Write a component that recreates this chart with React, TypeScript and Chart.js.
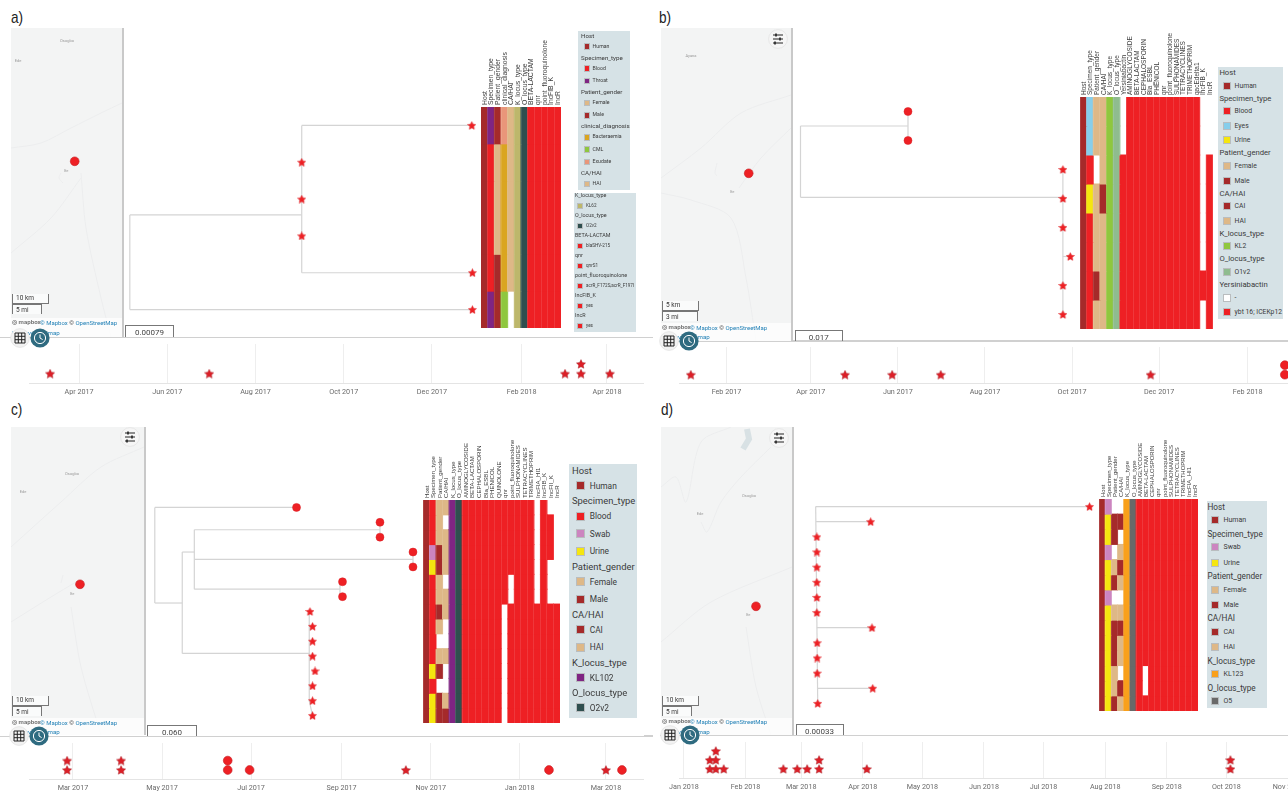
import React, { useEffect, useRef } from "react";
import { Chart, registerables } from "chart.js";

Chart.register(...registerables);

// ---------- palette for heat-map codes ----------
const palette: Record<string, string> = {
  H: "#a52a2a", R: "#ee2024", P: "#7f2583", F: "#deb887", M: "#a52a2a", G: "#daa520",
  L: "#8fc73e", S: "#e9967a", K: "#bdb76b", D: "#2f4f4f", E: "#87ceeb", U: "#f5e60f",
  W: "#cc85c0", N: "#8fc73e", V: "#8fbc8f", O: "#f9a01b", Y: "#696969",
};

// ---------- panel a ----------
const aColumns = ["Host", "Specimen_type", "Patient_gender", "clinical_diagnosis", "CA/HAI", "K_locus_type", "O_locus_type", "BETA-LACTAM", "qnr", "point_fluoroquinolone", "IncFIB_K", "IncR"];
const aRows = ["HPMSFKDRRRRR", "HRFGFKDRRRRR", "HRFGFKDRRRRR", "HRFGFKDRRRRR", "HRMGFKDRRRRR", "HPML.KDRRRRR"];
const aTipX = [0.00557, 0.0028, 0.0028, 0.0028, 0.00558, 0.00558];
const aTipShape = "******";
const aEdges = [[0, 2.43, 0.0028, 2.43], [0, 2.43, 0, 5], [0, 5, 0.00558, 5], [0.0028, 0, 0.0028, 4], [0.0028, 0, 0.00557, 0], [0.0028, 4, 0.00558, 4]];
const aTickLabels = ["Apr 2017", "Jun 2017", "Aug 2017", "Oct 2017", "Dec 2017", "Feb 2018", "Apr 2018"];
const aStarDates: [string, number][] = [["2017-03-12", 0], ["2017-06-30", 0], ["2018-03-03", 0], ["2018-03-14", 0], ["2018-03-14", 1], ["2018-04-03", 0]];
const aCircleDates: [string, number][] = [];
const aLegend1 = [["Host"], ["Human", "#a52a2a"], ["Specimen_type"], ["Blood", "#ee2024"], ["Throat", "#7f2583"], ["Patient_gender"], ["Female", "#deb887"], ["Male", "#a52a2a"], ["clinical_diagnosis"], ["Bacteraemia", "#daa520"], ["CML", "#8fc73e"], ["Exudate", "#e9967a"], ["CA/HAI"], ["HAI", "#deb887"]];
const aLegend2 = [["K_locus_type"], ["KL62", "#bdb76b"], ["O_locus_type"], ["O2v2", "#2f4f4f"], ["BETA-LACTAM"], ["blaSHV-215", "#ee2024"], ["qnr"], ["qnrS1", "#ee2024"], ["point_fluoroquinolone"], ["acrR_F172S,acrR_F197I", "#ee2024"], ["IncFIB_K"], ["yes", "#ee2024"], ["IncR"], ["yes", "#ee2024"]];

// ---------- panel b ----------
const bColumns = ["Host", "Specimen_type", "Patient_gender", "CA/HAI", "K_locus_type", "O_locus_type", "Yersiniabactin", "AMINOGLYCOSIDE", "BETA-LACTAM", "CEPHALOSPORIN", "Bla_ESBL", "PHENICOL", "qnr", "point_fluoroquinolone", "SULPHONAMIDES", "TETRACYCLINES", "TRIMETHOPRIM", "qacEdelta1", "IncFIB_K", "IncR"];
const bRows = ["HEFFNV.RRRRRRRRRRR..", "HEFFNV.RRRRRRRRRRR..", "HR.FNVRRRRRRRRRRRR.R", "HUFMNVRRRRRRRRRRRR.R", "HRFFNVRRRRRRRRRRRR.R", "HRFFNVRRRRRRRRRRRR.R", "HRMFNVRRRRRRRRRRRRRR", "HRFFNVRRRRRRRRRRRR.R"];
const bTipX = [0.03807, 0.03807, 0.09293, 0.09293, 0.09293, 0.09555, 0.09293, 0.09293];
const bTipShape = "oo******";
const bEdges = [[0, 0.5, 0, 2.96], [0, 0.5, 0.03807, 0.5], [0.03807, 0, 0.03807, 1], [0, 2.96, 0.09293, 2.96], [0.09293, 2, 0.09293, 7], [0.09293, 5, 0.09555, 5]];
const bTickLabels = ["Feb 2017", "Apr 2017", "Jun 2017", "Aug 2017", "Oct 2017", "Dec 2017", "Feb 2018"];
const bStarDates: [string, number][] = [["2017-01-07", 0], ["2017-04-25", 0], ["2017-05-28", 0], ["2017-07-01", 0], ["2017-11-25", 0]];
const bCircleDates: [string, number][] = [["2018-02-27", 0], ["2018-02-27", 1]];
const bLegend = [["Host"], ["Human", "#a52a2a"], ["Specimen_type"], ["Blood", "#ee2024"], ["Eyes", "#87ceeb"], ["Urine", "#f5e60f"], ["Patient_gender"], ["Female", "#deb887"], ["Male", "#a52a2a"], ["CA/HAI"], ["CAI", "#a52a2a"], ["HAI", "#deb887"], ["K_locus_type"], ["KL2", "#8fc73e"], ["O_locus_type"], ["O1v2", "#8fbc8f"], ["Yersiniabactin"], ["-", "#ffffff"], ["ybt 16; ICEKp12", "#ee2024"]];

// ---------- panel c ----------
const cColumns = ["Host", "Specimen_type", "Patient_gender", "CA/HAI", "K_locus_type", "O_locus_type", "AMINOGLYCOSIDE", "BETA-LACTAM", "CEPHALOSPORIN", "Bla_ESBL", "PHENICOL", "QUINOLONE", "qnr", "point_fluoroquinolone", "SULPHONAMIDES", "TETRACYCLINES", "TRIMETHOPRIM", "IncFIA_HI1", "IncFIB_K", "IncFII_K", "IncR"];
const cRows = [
  "HRFFPDRRRRRRRRRRR.R..", "HRF.PDRRRRRRRRRRR.RR.", "HRFFPDRRRRRRRRRRR.RR.", "HWMFPDRRRRRRRRRRR.RR.", "HUMFPDRRRRRRRRRRR.R..",
  "HRF.PDRRRRRRR.RRR.R..", "HRFFPDRRRRRRR.RRR.R..", "HRMFPDRRRRRR.RRRRRRRR", "HRF.PDRRRRRR.RRRRRRRR", "HR..PDRRRRRR.RRRRRRRR",
  "HRFFPDRRRRRR.RRRRRRRR", "HUM.PDRRRRRR.RRRRRRRR", "HR..PDRRRRRR.RRRRRRRR", "HUMFPDRRRRRR.RRRRRRRR", "HUMMPDRRRRRR.RRRRRRRR",
];
const cTipX = [0.1739, 0.2763, 0.2763, 0.3168, 0.3168, 0.2303, 0.2303, 0.1904, 0.1935, 0.1935, 0.1935, 0.1966, 0.1935, 0.1935, 0.1935];
const cTipShape = "ooooooo********";
const cEdges = [[0, 0, 0, 6.43], [0, 0, 0.1739, 0], [0, 6.43, 0.0337, 6.43], [0.0337, 3, 0.0337, 9.82], [0.0337, 3, 0.0485, 3], [0.0485, 1.5, 0.0485, 5.5], [0.0485, 1.5, 0.2763, 1.5], [0.2763, 1, 0.2763, 2], [0.0485, 3.5, 0.3168, 3.5], [0.3168, 3, 0.3168, 4], [0.0485, 5.5, 0.2272, 5.5], [0.2272, 5, 0.2272, 6], [0.0337, 9.82, 0.1895, 9.82], [0.1895, 7, 0.1895, 13], [0.1895, 13, 0.1935, 14]];
const cTickLabels = ["Mar 2017", "May 2017", "Jul 2017", "Sep 2017", "Nov 2017", "Jan 2018", "Mar 2018"];
const cStarDates: [string, number][] = [["2017-02-25", 0], ["2017-02-25", 1], ["2017-04-03", 0], ["2017-04-03", 1], ["2017-10-15", 0], ["2018-03-01", 0]];
const cCircleDates: [string, number][] = [["2017-06-15", 0], ["2017-06-15", 1], ["2017-06-30", 0], ["2018-01-21", 0], ["2018-03-12", 0]];
const cLegend = [["Host"], ["Human", "#a52a2a"], ["Specimen_type"], ["Blood", "#ee2024"], ["Swab", "#cc85c0"], ["Urine", "#f5e60f"], ["Patient_gender"], ["Female", "#deb887"], ["Male", "#a52a2a"], ["CA/HAI"], ["CAI", "#a52a2a"], ["HAI", "#deb887"], ["K_locus_type"], ["KL102", "#7f2583"], ["O_locus_type"], ["O2v2", "#2f4f4f"]];

// ---------- panel d ----------
const dColumns = ["Host", "Specimen_type", "Patient_gender", "CA/HAI", "K_locus_type", "O_locus_type", "AMINOGLYCOSIDE", "BETA-LACTAM", "CEPHALOSPORIN", "qnr", "point_fluoroquinolone", "SULPHONAMIDES", "TETRACYCLINES", "TRIMETHOPRIM", "IncFIA_HI1", "IncR"];
const dRows = [
  "HW..OYRRRRRRRRRR", "HUMMOYRRRRRRRRRR", "HUM.OYRRRRRRRRRR", "HW.FOYRRRRRRRRRR", "HUFMOYRRRRRRRRRR", "HUMFOYRRRRRRRRRR", "HW..OYRRRRRRRRRR",
  "HUFFOYRRRRRRRRRR", "HUMMOYRRRRRRRRRR", "HUMFOYRRRRRRRRRR", "HUMFOYRRRRRRRRRR", "HUF.OYR.RRRRRRRR", "HUFMOYR.RRRRRRRR", "HUMFOYRRRRRRRRRR",
];
const dTipX = [0.001883, 0.000378, 0.000008, 0.000008, 0.000008, 0.000008, 0.000008, 0.000008, 0.000387, 0.00001, 0.00001, 0.00001, 0.000392, 0.000014];
const dTipShape = "**************";
const dEdges = [[0, 0, 0.000014, 13], [0, 0, 0.001883, 0], [0.000003, 1, 0.000378, 1], [0.000008, 8, 0.000387, 8], [0.000012, 12, 0.000392, 12]];
const dTickLabels = ["Jan 2018", "Feb 2018", "Mar 2018", "Apr 2018", "May 2018", "Jun 2018", "Jul 2018", "Aug 2018", "Sep 2018", "Oct 2018", "Nov 2018"];
const dStarDates: [string, number][] = [["2018-01-14", 0], ["2018-01-17", 0], ["2018-01-21", 0], ["2018-01-14", 1], ["2018-01-17", 1], ["2018-01-17", 2], ["2018-02-20", 0], ["2018-02-27", 0], ["2018-03-04", 0], ["2018-03-10", 0], ["2018-03-10", 1], ["2018-04-03", 0], ["2018-10-03", 0], ["2018-10-03", 1]];
const dCircleDates: [string, number][] = [];
const dLegend = [["Host"], ["Human", "#a52a2a"], ["Specimen_type"], ["Swab", "#cc85c0"], ["Urine", "#f5e60f"], ["Patient_gender"], ["Female", "#deb887"], ["Male", "#a52a2a"], ["CA/HAI"], ["CAI", "#a52a2a"], ["HAI", "#deb887"], ["K_locus_type"], ["KL123", "#f9a01b"], ["O_locus_type"], ["O5", "#696969"]];

// ---------- map features (map units) ----------
const aRoads = [[[0, 120], [30, 115], [60, 100], [90, 85], [111, 75]], [[70, 145], [75, 200], [90, 270], [100, 309]], [[0, 225], [40, 190], [70, 150]], [[50, 145], [48, 150], [52, 155]]];
const bRoads = [[[0, 150], [40, 120], [80, 85], [130, 67]], [[0, 165], [30, 172], [70, 190], [85, 250], [95, 313]], [[78, 160], [100, 130], [130, 100]], [[56, 135], [54, 145], [56, 148]]];
const cRoads = [[[0, 120], [50, 75], [90, 40], [133, 20]], [[0, 195], [40, 170], [65, 155]], [[60, 180], [70, 240], [90, 308]], [[52, 148], [50, 156]]];
const dRoads = [[[0, 60], [15, 50], [25, 75], [40, 15], [70, 0]], [[0, 215], [50, 175], [131, 140]], [[85, 200], [95, 260], [110, 308]], [[40, 95], [46, 105], [60, 75], [80, 50], [110, 20]]];
const dDam = [[86, 2], [88, 12], [82, 22]];
const aMapLabels: [string, number, number][] = [["Osogbo", 56, 13], ["Ede", 7, 33], ["Ife", 55, 143]];
const bMapLabels: [string, number, number][] = [["Ife", 71, 164], ["Ayana", 30, 28]];
const cMapLabels: [string, number, number][] = [["Osogbo", 61, 47], ["Ede", 12, 65], ["Ife", 61, 167]];
const dMapLabels: [string, number, number][] = [["Osogbo", 88, 69], ["Ede", 39, 87], ["Ife", 87, 188]];

// ---------- helpers ----------
const toDay = (s: string) => Date.parse(s.length > 10 ? s : s + "T00:00Z") / 86400000;
const labelDay = (l: string) => Date.parse(`${l.slice(0, 3)} 1 ${l.slice(4)} UTC`) / 86400000;

const starCache: Record<string, HTMLCanvasElement> = {};
function starImage(size: number, fill: string, stroke: string) {
  const key = `${size}${fill}${stroke}`;
  if (starCache[key]) return starCache[key];
  const c = document.createElement("canvas");
  c.width = size; c.height = size;
  const g = c.getContext("2d")!;
  const R = size / 2 - 0.2, r = R * 0.5;
  g.beginPath();
  for (let i = 0; i < 10; i++) {
    const a = -Math.PI / 2 + (i * Math.PI) / 5, q = i % 2 ? r : R;
    g.lineTo(size / 2 + q * Math.cos(a), size / 2 + 0.4 + q * Math.sin(a));
  }
  g.closePath();
  g.fillStyle = fill; g.fill();
  g.lineWidth = 0.4; g.strokeStyle = stroke; g.stroke();
  starCache[key] = c;
  return c;
}

const noAxis = { display: false };
const base = {
  responsive: false, animation: false as const,
  layout: { padding: 0, autoPadding: false },
  plugins: { legend: { display: false }, tooltip: { enabled: false } },
  events: [] as any[],
};

function ChartBox({ x, y, w, h, make, style }: any) {
  const ref = useRef<HTMLCanvasElement>(null);
  useEffect(() => {
    const chart = new Chart(ref.current!, make());
    return () => chart.destroy();
  }, []);
  return <canvas ref={ref} width={w} height={h} style={{ position: "absolute", left: x, top: y, width: w, height: h, ...style }} />;
}

function treeConfig(tipX: number[], shape: string, edges: number[][], xMin: number, xMax: number, nRows: number) {
  return () => {
    const tips = tipX.map((x, i) => ({ x, y: i }));
    return {
      type: "scatter",
      data: {
        datasets: [
          { data: tips.filter((_, i) => shape[i] === "*"), pointStyle: starImage(9, "#ee2024", "#d81e24"), pointRadius: 5, clip: false },
          { data: tips.filter((_, i) => shape[i] === "o"), pointStyle: "circle", pointRadius: 4, backgroundColor: "#ee2024", borderColor: "#d81e24", borderWidth: 0.5, clip: false },
          ...edges.map((e) => ({
            data: [{ x: e[0], y: e[1] }, { x: e[2], y: e[3] }], showLine: true, pointRadius: 0,
            borderColor: "#d4d4d4", borderWidth: 1.2, clip: false,
          })),
        ],
      },
      options: {
        ...base,
        scales: {
          x: { type: "linear", min: xMin, max: xMax, ...noAxis },
          y: { type: "linear", min: -0.5, max: nRows - 0.5, reverse: true, ...noAxis },
        },
      },
    } as any;
  };
}

const HEAT_MARGIN = 4;
function heatConfig(columns: string[], rows: string[], labelBand: number, font: number) {
  return () => ({
    type: "bar",
    data: {
      labels: columns,
      datasets: rows.map((row, r) => ({
        data: columns.map((_, c) => (row[c] === "." ? null : [r, r + 1])),
        backgroundColor: columns.map((_, c) => palette[row[c]] || "transparent"),
        borderWidth: 0,
        inflateAmount: 0.5,
        barPercentage: 1, categoryPercentage: 1, grouped: false,
      })),
    },
    options: {
      ...base,
      layout: { padding: { left: HEAT_MARGIN, right: HEAT_MARGIN }, autoPadding: false },
      scales: {
        x: {
          position: "top", offset: true,
          grid: { display: true, z: 1, offset: true, color: "rgba(255,255,255,0.16)", lineWidth: 0.7, drawTicks: false }, border: { display: false },
          ticks: {
            autoSkip: false, minRotation: 90, maxRotation: 90, padding: 2,
            labelOffset: font * 0.6 + 4.5,
            color: "#3c3c3c", font: { family: "'Liberation Sans'", size: font },
          },
          afterFit: (s: any) => { s.height = labelBand; s.paddingLeft = 0; s.paddingRight = 0; },
        },
        y: { type: "linear", min: 0, max: rows.length, reverse: true, ...noAxis },
      },
    },
  } as any);
}

const TIME_MARGIN = 14;
function timelineConfig(stars: [string, number][], circles: [string, number][], tickLabels: string[], minD: string, maxD: string, yMin: number, yMax: number) {
  const tickDays = tickLabels.map(labelDay);
  return () => ({
    type: "scatter",
    data: {
      datasets: [
        { data: stars.map(([d, r]) => ({ x: toDay(d), y: r })), pointStyle: starImage(10, "#dc1f27", "#9c1f25"), pointRadius: 5, clip: false },
        { data: circles.map(([d, r]) => ({ x: toDay(d), y: r })), pointStyle: "circle", pointRadius: 4.4, backgroundColor: "#ee2024", borderColor: "#c51f24", borderWidth: 0.6, clip: false },
      ],
    },
    options: {
      ...base,
      layout: { padding: { left: TIME_MARGIN }, autoPadding: false },
      scales: {
        x: {
          type: "linear", min: toDay(minD), max: toDay(maxD),
          afterBuildTicks: (s: any) => { s.ticks = tickDays.map((value) => ({ value })); },
          afterFit: (s: any) => { s.height = 17; s.paddingLeft = 0; s.paddingRight = 0; },
          grid: { color: "#eeeeee", lineWidth: 1, drawTicks: false },
          border: { color: "#e4e4e4" },
          ticks: {
            autoSkip: false, maxRotation: 0, minRotation: 0, padding: 5, color: "#6a6a6a",
            font: { family: "Roboto", size: 7.2 },
            callback: (v: number) => tickLabels[tickDays.indexOf(v)] ?? "",
          },
        },
        y: { type: "linear", min: yMin, max: yMax, ...noAxis },
      },
    },
  } as any);
}

function mapConfig(w: number, h: number, dot: [number, number], roads: number[][][], dam?: number[][]) {
  return () => ({
    type: "scatter",
    data: {
      datasets: [
        { data: [{ x: dot[0], y: dot[1] }], pointStyle: "circle", pointRadius: 4.4, backgroundColor: "#ee2024", borderColor: "#c51f24", borderWidth: 0.6 },
        ...(dam ? [{ data: dam.map(([x, y]) => ({ x, y })), showLine: true, pointRadius: 0, borderColor: "#d8e1e4", borderWidth: 6 }] : []),
        ...roads.map((rd) => ({
          data: rd.map(([x, y]) => ({ x, y })), showLine: true, pointRadius: 0,
          borderColor: "#ecedee", borderWidth: 1, tension: 0.3,
        })),
      ],
    },
    options: {
      ...base,
      scales: {
        x: { type: "linear", min: 0, max: w, ...noAxis },
        y: { type: "linear", min: 0, max: h, reverse: true, ...noAxis },
      },
    },
  } as any);
}

// ---------- plain page furniture ----------
function Txt({ x, y, children, size, color, family, weight, center, sx }: any) {
  return (
    <div style={{
      position: "absolute", left: x, top: y, transform: `translate(${center ? "-50%" : "0"},-50%)${sx ? ` scaleX(${sx})` : ""}`,
      transformOrigin: "left center",
      fontSize: size, color, fontFamily: family || "Roboto, sans-serif", fontWeight: weight || 400, whiteSpace: "nowrap", lineHeight: 1,
    }}>{children}</div>
  );
}

function Legend({ items, g }: any) {
  let y = g.y0;
  let prev = "";
  const rows = items.map((it: string[], i: number) => {
    const kind = it.length === 1 ? "h" : "i";
    if (i > 0) y += prev === "h" ? g.hi : kind === "i" ? g.ii : g.ih;
    prev = kind;
    const yy = y - g.top;
    if (kind === "h") return <Txt key={i} x={g.hx - g.left} y={yy} size={g.hf} color="#3a3a3a">{it[0]}</Txt>;
    return (
      <React.Fragment key={i}>
        <div style={{
          position: "absolute", left: g.sx - g.left - g.s / 2, top: yy - g.s / 2, width: g.s, height: g.s, background: it[1],
          boxSizing: "border-box", border: "1px solid #b9bdbf",
        }} />
        <Txt x={g.tx - g.left} y={yy} size={g.if} color="#3a3a3a">{it[0]}</Txt>
      </React.Fragment>
    );
  });
  return <div style={{ position: "absolute", left: g.left, top: g.top, width: g.w, height: g.h, background: "#d6e2e6" }}>{rows}</div>;
}

function Clock({ x, y }: any) {
  return (
    <svg style={{ position: "absolute", left: x - 10, top: y - 10 }} width="20" height="20">
      <circle cx="10" cy="10" r="9.6" fill="#2f6b80" />
      <circle cx="10" cy="10" r="5.6" fill="none" stroke="#fff" strokeWidth="1" />
      <path d="M10 6.5V10L12.6 11.6" fill="none" stroke="#fff" strokeWidth="1" />
    </svg>
  );
}
function GridBtn({ x, y }: any) {
  return (
    <svg style={{ position: "absolute", left: x - 10, top: y - 10 }} width="20" height="20">
      <circle cx="10" cy="10" r="9.4" fill="#f2f2f2" stroke="#dedede" strokeWidth="0.6" />
      <path d="M5 5h10v10H5zM5 8.3h10M5 11.7h10M8.3 5v10M11.7 5v10" fill="none" stroke="#222" strokeWidth="1" />
    </svg>
  );
}
function FilterBtn({ x, y }: any) {
  return (
    <svg style={{ position: "absolute", left: x - 10, top: y - 10 }} width="20" height="20">
      <circle cx="10" cy="10" r="9.4" fill="#f6f6f6" stroke="#dedede" strokeWidth="0.6" />
      <path d="M5 6h10M5 10h10M5 14h10" stroke="#222" strokeWidth="1" />
      <path d="M8 4.5v3M12 8.5v3M7 12.5v3" stroke="#222" strokeWidth="1.6" />
    </svg>
  );
}

function MapPanel({ m }: any) {
  return (
    <>
      <div style={{ position: "absolute", left: m.x, top: m.y, width: m.w, height: m.h, background: "#f3f4f4", overflow: "hidden" }}>
        <ChartBox x={0} y={0} w={m.w} h={m.h} make={mapConfig(m.w, m.h, m.dot, m.roads, m.dam)} />
        {m.labels.map(([t, lx, ly]: any, i: number) => (
          <Txt key={i} x={lx} y={ly} size={4} color="#9a9a9a" center>{t}</Txt>
        ))}
        <div style={{ position: "absolute", left: 0, right: 0, top: m.bandY, bottom: 0, background: "rgba(255,255,255,0.75)" }} />
        <div style={{ position: "absolute", left: 1, top: m.scaleY, width: m.km, height: 10, boxSizing: "border-box", border: "1px solid #777", borderTop: "none", background: "rgba(255,255,255,0.6)" }}>
          <span style={{ position: "absolute", left: 3, top: 0, fontSize: 6.5, fontFamily: "Roboto", color: "#333" }}>{m.kmText}</span>
        </div>
        <div style={{ position: "absolute", left: 1, top: m.scaleY + 10, width: m.mi, height: 10, boxSizing: "border-box", border: "1px solid #777", borderBottom: "none", background: "rgba(255,255,255,0.6)" }}>
          <span style={{ position: "absolute", left: 3, top: 1, fontSize: 6.5, fontFamily: "Roboto", color: "#333" }}>{m.miText}</span>
        </div>
        <Txt x={m.attrX} y={m.attrY} size={6} color="#4a4a4a" family="Roboto"><span style={{ color: "#1f7fb5" }}>© Mapbox</span> © <span style={{ color: "#1f7fb5" }}>OpenStreetMap</span></Txt>
        <Txt x={1} y={m.attrY - 1} size={6.2} color="#777" family="Roboto" weight={700}>◎ mapbox</Txt>
        <Txt x={1} y={m.attrY + 9.5} size={6.2} color="#1f7fb5" family="Roboto">Improve this map</Txt>
      </div>
      <div style={{ position: "absolute", left: m.x + m.w, top: m.y, width: 1.5, height: m.h, background: "#c9c9c9" }} />
      {m.filter && <FilterBtn x={m.filter[0]} y={m.filter[1]} />}
      <GridBtn x={m.btnX} y={m.btnY} />
      <Clock x={m.btnX + 20} y={m.btnY} />
    </>
  );
}

function ScaleBar({ x, y, w, h, text }: any) {
  return (
    <div style={{ position: "absolute", left: x, top: y, width: w, height: h, boxSizing: "border-box", border: "1px solid #777", borderBottom: "none", textAlign: "center", overflow: "hidden" }}>
      <span style={{ fontFamily: "Roboto", fontSize: 8, color: "#444", lineHeight: `${h + 3}px`, display: "block" }}>{text}</span>
    </div>
  );
}

const Hr = ({ x, y, w }: any) => <div style={{ position: "absolute", left: x, top: y, width: w, height: 1.5, background: "#d0d0d0" }} />;
const titleFont = "'Liberation Sans Narrow', 'Liberation Sans'";

export default function App() {
  return (
    <div style={{ position: "absolute", left: 0, top: 0, width: 1288, height: 792, overflow: "hidden", background: "#fff" }}>
      {/* panel titles */}
      <Txt x={11} y={17} size={17} color="#222" family={titleFont} sx={0.8}>a)</Txt>
      <Txt x={659} y={17} size={17} color="#222" family={titleFont} sx={0.8}>b)</Txt>
      <Txt x={11} y={409} size={17} color="#222" family={titleFont} sx={0.8}>c)</Txt>
      <Txt x={661} y={409} size={17} color="#222" family={titleFont} sx={0.8}>d)</Txt>

      {/* dividers */}
      <Hr x={0} y={336.5} w={644} />
      <Hr x={660} y={340} w={628} />
      <Hr x={644} y={336.5} w={9} />
      <Hr x={0} y={735.5} w={644} />
      <Hr x={660} y={734.5} w={628} />
      <Hr x={644} y={735} w={9} />

      {/* timelines */}
      <ChartBox x={29 - TIME_MARGIN} y={344} w={615 + TIME_MARGIN} h={56} make={timelineConfig(aStarDates, aCircleDates, aTickLabels, "2017-02-25T10:00Z", "2018-04-26T14:00Z", -0.96, 3.06)} />
      <ChartBox x={679 - TIME_MARGIN} y={347} w={609 + TIME_MARGIN} h={53} make={timelineConfig(bStarDates, bCircleDates, bTickLabels, "2016-12-29T18:00Z", "2018-03-01T05:00Z", -0.87, 2.9)} />
      <ChartBox x={29 - TIME_MARGIN} y={743} w={615 + TIME_MARGIN} h={53} make={timelineConfig(cStarDates, cCircleDates, cTickLabels, "2017-01-29T22:00Z", "2018-03-27T02:00Z", -0.957, 2.87)} />
      <ChartBox x={679 - TIME_MARGIN} y={742} w={609 + TIME_MARGIN} h={53} make={timelineConfig(dStarDates, dCircleDates, dTickLabels, "2017-12-29T12:00Z", "2018-11-01", -1, 3)} />

      {/* trees */}
      <ChartBox x={123} y={107} w={358} h={221} make={treeConfig(aTipX, aTipShape, aEdges, -0.000111, 0.00572, 6)} />
      <ChartBox x={792} y={97} w={288} h={232} make={treeConfig(bTipX, bTipShape, bEdges, -0.00301, 0.09899, 8)} />
      <ChartBox x={145} y={500} w={278} h={223} make={treeConfig(cTipX, cTipShape, cEdges, -0.01202, 0.32908, 15)} />
      <ChartBox x={793} y={499} w={306} h={212} make={treeConfig(dTipX, dTipShape, dEdges, -0.000156, 0.001948, 14)} />

      {/* heat maps */}
      <ChartBox x={481 - HEAT_MARGIN} y={30} w={80 + 2 * HEAT_MARGIN} h={298} make={heatConfig(aColumns, aRows, 77, 6.8)} />
      <ChartBox x={1080 - HEAT_MARGIN} y={26} w={133 + 2 * HEAT_MARGIN} h={303} make={heatConfig(bColumns, bRows, 71, 6.5)} />
      <ChartBox x={423 - HEAT_MARGIN} y={432} w={137 + 2 * HEAT_MARGIN} h={291} make={heatConfig(cColumns, cRows, 68, 6.1)} />
      <ChartBox x={1099 - HEAT_MARGIN} y={434} w={99 + 2 * HEAT_MARGIN} h={277} make={heatConfig(dColumns, dRows, 65, 6)} />

      {/* maps */}
      <MapPanel m={{ x: 11, y: 28, w: 111, h: 309, dot: [63.7, 133.3], roads: aRoads, labels: aMapLabels, bandY: 290, scaleY: 266, km: 37, mi: 30, kmText: "10 km", miText: "5 mi", attrX: 29, attrY: 295, btnX: 20, btnY: 338 }} />
      <MapPanel m={{ x: 661, y: 28, w: 130, h: 313, dot: [87.7, 145.3], roads: bRoads, labels: bMapLabels, bandY: 294.5, scaleY: 273, km: 37, mi: 36, kmText: "5 km", miText: "3 mi", attrX: 29, attrY: 299.7, btnX: 669, btnY: 341, filter: [777.5, 39.3] }} />
      <MapPanel m={{ x: 11, y: 427, w: 133, h: 308, dot: [69, 157.3], roads: cRoads, labels: cMapLabels, bandY: 291, scaleY: 269, km: 37, mi: 30, kmText: "10 km", miText: "5 mi", attrX: 29, attrY: 295.7, btnX: 19, btnY: 736, filter: [129.8, 436.7] }} />
      <MapPanel m={{ x: 661, y: 427, w: 131, h: 308, dot: [95, 179.3], roads: dRoads, dam: dDam, labels: dMapLabels, bandY: 291, scaleY: 269, km: 37, mi: 30, kmText: "10 km", miText: "5 mi", attrX: 29, attrY: 295, btnX: 669.5, btnY: 735.3, filter: [778.7, 438] }} />

      {/* tree scale bars */}
      <ScaleBar x={125.3} y={325.3} w={48.4} h={11.5} text="0.00079" />
      <ScaleBar x={794.7} y={330} w={48.1} h={11} text="0.017" />
      <ScaleBar x={147.4} y={725.3} w={49.3} h={10.5} text="0.060" />
      <ScaleBar x={795.5} y={724.3} w={48.1} h={10.5} text="0.00033" />

      {/* legends */}
      <Legend items={aLegend1} g={{ left: 578, top: 31, w: 52, h: 159, y0: 35.7, hi: 11, ii: 12.3, ih: 11, hx: 581, sx: 587, tx: 592.6, hf: 6.2, if: 5.2, s: 6.5 }} />
      <Legend items={aLegend2} g={{ left: 573.7, top: 192.7, w: 62.8, h: 139.3, y0: 196.3, hi: 10, ii: 10, ih: 10, hx: 575, sx: 580, tx: 586, hf: 5.4, if: 4.6, s: 6 }} />
      <Legend items={bLegend} g={{ left: 1218, top: 66.7, w: 64.6, h: 252.3, y0: 73, hi: 12.7, ii: 14.5, ih: 13, hx: 1219.4, sx: 1226.8, tx: 1234.6, hf: 7.7, if: 6.8, s: 8 }} />
      <Legend items={cLegend} g={{ left: 569, top: 464.3, w: 67.6, h: 253.7, y0: 471, hi: 15, ii: 17.5, ih: 15.4, hx: 572, sx: 580.7, tx: 589.7, hf: 9.4, if: 8.4, s: 9 }} />
      <Legend items={dLegend} g={{ left: 1206.6, top: 501, w: 60.8, h: 206.7, y0: 507, hi: 13.4, ii: 15.2, ih: 13.6, hx: 1207.5, sx: 1215.3, tx: 1223.5, hf: 8.2, if: 7, s: 8 }} />
    </div>
  );
}
